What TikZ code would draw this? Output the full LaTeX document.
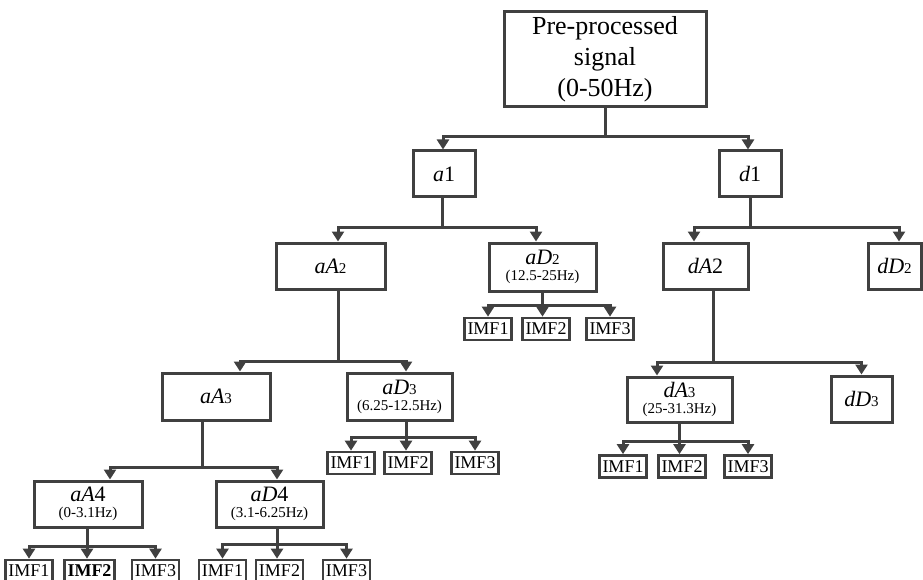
\documentclass[tikz,border=0pt]{standalone}
\usepackage{fontspec}
\setmainfont{Liberation Serif}
\usetikzlibrary{arrows.meta,calc}
\definecolor{ink}{HTML}{404040}
\newcommand{\labS}[2]{{\fontsize{22}{22}\selectfont\itshape #1}{\fontsize{15}{15}\selectfont #2}}
\newcommand{\labN}[2]{{\fontsize{22}{22}\selectfont{\itshape #1}#2}}
\begin{document}
\begin{tikzpicture}[x=1pt,y=-1pt,
  box/.style={draw=ink, line width=3pt, inner sep=0pt, fill=white, align=center, font=\fontsize{15}{16}\selectfont},
  imf/.style={draw=ink, line width=2.7pt, inner xsep=3pt, inner ysep=0pt, minimum height=22pt, font=\fontsize{18}{18}\selectfont},
  ln/.style={draw=ink, line width=3pt},
  arr/.style={ln, -{Triangle[width=12pt,length=10pt]}}]
\useasboundingbox (0,0) rectangle (923,580);
% boxes
\node[box, minimum width=202pt, minimum height=95pt, font=\fontsize{26}{31}\selectfont] (root) at (605,59.5) {Pre-processed\\signal\\(0-50Hz)};
\node[box, minimum width=62pt, minimum height=46pt] (a1) at (444,174) {\labN{a}{1}};
\node[box, minimum width=62pt, minimum height=46pt] (d1) at (750,174) {\labN{d}{1}};
\node[box, minimum width=109pt, minimum height=46pt] (aA2) at (330.5,266) {\labS{aA}{2}};
\node[box, minimum width=107pt, minimum height=48pt] (aD2) at (542.5,267) {\labS{aD}{2}\\(12.5-25Hz)};
\node[box, minimum width=85pt, minimum height=46pt] (dA2) at (705.5,266) {\labN{dA}{2}};
\node[box, minimum width=53pt, minimum height=46pt] (dD2) at (894.5,266) {\labS{dD}{2}};
\node[box, minimum width=108pt, minimum height=47pt] (aA3) at (216,396.5) {\labS{aA}{3}};
\node[box, minimum width=105pt, minimum height=47pt] (aD3) at (399.5,396.5) {\labS{aD}{3}\\(6.25-12.5Hz)};
\node[box, minimum width=105pt, minimum height=45pt] (dA3) at (679.5,399.5) {\labS{dA}{3}\\(25-31.3Hz)};
\node[box, minimum width=61pt, minimum height=46pt] (dD3) at (861.5,399) {\labS{dD}{3}};
\node[box, minimum width=108pt, minimum height=46pt] (aA4) at (88,504) {\labN{aA}{4}\\(0-3.1Hz)};
\node[box, minimum width=107pt, minimum height=46pt] (aD4) at (269.5,504) {\labN{aD}{4}\\(3.1-6.25Hz)};
% IMF boxes
\node[imf] (aD2i1) at (488,329) {IMF1};
\node[imf] (aD2i2) at (546,329) {IMF2};
\node[imf] (aD2i3) at (610,329) {IMF3};
\node[imf] (aD3i1) at (351,463) {IMF1};
\node[imf] (aD3i2) at (408,463) {IMF2};
\node[imf] (aD3i3) at (475,463) {IMF3};
\node[imf] (dA3i1) at (623,466.5) {IMF1};
\node[imf] (dA3i2) at (682,466.5) {IMF2};
\node[imf] (dA3i3) at (748,466.5) {IMF3};
\node[imf] (aA4i1) at (29,571) {IMF1};
\node[imf] (aA4i2) at (89.5,571) {\textbf{IMF2}};
\node[imf] (aA4i3) at (155.5,571) {IMF3};
\node[imf] (aD4i1) at (222.5,571) {IMF1};
\node[imf] (aD4i2) at (279.5,571) {IMF2};
\node[imf] (aD4i3) at (346.5,571) {IMF3};
% root
\path (root.south) coordinate (sroot);
\draw[ln] (sroot) -- (sroot |- 0,137) coordinate (jroot);
\draw[arr] (jroot) -| ([xshift=-1pt]a1.north);
\draw[arr] (jroot) -| ([xshift=-2pt]d1.north);
% a1
\path ([xshift=-2pt]a1.south) coordinate (sa1);
\draw[ln] (sa1) -- (sa1 |- 0,227) coordinate (ja1);
\draw[arr] (ja1) -| ([xshift=7.5pt]aA2.north);
\draw[arr] (ja1) -| ([xshift=-6.5pt]aD2.north);
% d1
\path (d1.south) coordinate (sd1);
\draw[ln] (sd1) -- (sd1 |- 0,227) coordinate (jd1);
\draw[arr] (jd1) -| ([xshift=-11.5pt]dA2.north);
\draw[arr] (jd1) -| ([xshift=4.5pt]dD2.north);
% aA2
\path ([xshift=7.5pt]aA2.south) coordinate (saA2);
\draw[ln] (saA2) -- (saA2 |- 0,361) coordinate (jaA2);
\draw[arr] (jaA2) -| ([xshift=24pt]aA3.north);
\draw[arr] (jaA2) -| ([xshift=6.5pt]aD3.north);
% dA2
\path ([xshift=7.5pt]dA2.south) coordinate (sdA2);
\draw[ln] (sdA2) -- (sdA2 |- 0,362) coordinate (jdA2);
\draw[arr] (jdA2) -| ([xshift=-22.5pt]dA3.north);
\draw[arr] (jdA2) -| (dD3.north);
% aA3
\path ([xshift=-14pt]aA3.south) coordinate (saA3);
\draw[ln] (saA3) -- (saA3 |- 0,467) coordinate (jaA3);
\draw[arr] (jaA3) -| ([xshift=22pt]aA4.north);
\draw[arr] (jaA3) -| ([xshift=7.5pt]aD4.north);
% aD2 IMFs
\path (aD2.south) coordinate (saD2);
\draw[ln] (saD2) -- (saD2 |- 0,305) coordinate (jaD2);
\draw[arr] (jaD2) -| (aD2i1.north);
\draw[arr] (jaD2) -- (jaD2 |- aD2i2.north);
\draw[arr] (jaD2) -| (aD2i3.north);
% aD3 IMFs
\path ([xshift=6.5pt]aD3.south) coordinate (saD3);
\draw[ln] (saD3) -- (saD3 |- 0,437) coordinate (jaD3);
\draw[arr] (jaD3) -| (aD3i1.north);
\draw[arr] (jaD3) -- (jaD3 |- aD3i2.north);
\draw[arr] (jaD3) -| (aD3i3.north);
% dA3 IMFs
\path (dA3.south) coordinate (sdA3);
\draw[ln] (sdA3) -- (sdA3 |- 0,441) coordinate (jdA3);
\draw[arr] (jdA3) -| (dA3i1.north);
\draw[arr] (jdA3) -- (jdA3 |- dA3i2.north);
\draw[arr] (jdA3) -| (dA3i3.north);
% aA4 IMFs
\path ([xshift=-1pt]aA4.south) coordinate (saA4);
\draw[ln] (saA4) -- (saA4 |- 0,546) coordinate (jaA4);
\draw[arr] (jaA4) -| (aA4i1.north);
\draw[arr] (jaA4) -- (jaA4 |- aA4i2.north);
\draw[arr] (jaA4) -| (aA4i3.north);
% aD4 IMFs
\path ([xshift=7.5pt]aD4.south) coordinate (saD4);
\draw[ln] (saD4) -- (saD4 |- 0,544) coordinate (jaD4);
\draw[arr] (jaD4) -| (aD4i1.north);
\draw[arr] (jaD4) -- (jaD4 |- aD4i2.north);
\draw[arr] (jaD4) -| (aD4i3.north);
\end{tikzpicture}
\end{document}
